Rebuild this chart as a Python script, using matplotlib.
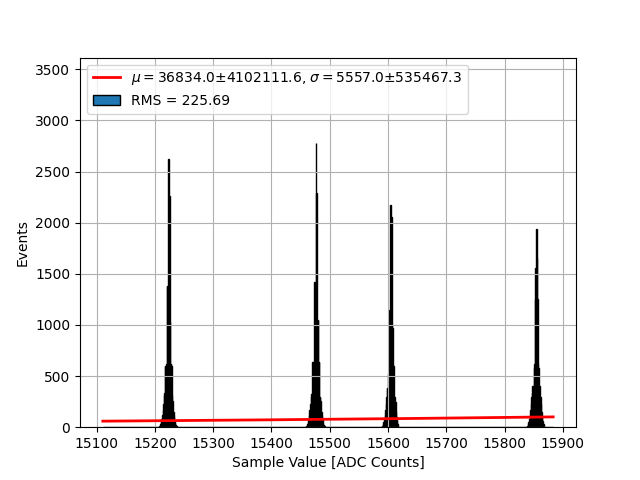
import numpy as np
import matplotlib
matplotlib.use('Agg')
import matplotlib.pyplot as plt

# Histogram range (ADC counts, 1 count per bin)
lo, hi = 15110, 15884

# Each peak: first bin and the counts per bin from there
peak1_start = 15206
peak1 = [3, 8, 15, 30, 50, 80, 120, 170, 230, 310, 330, 600, 600, 620, 1380, 1380, 1030,
         2620, 2260, 1030, 620, 620, 600, 310, 260, 150, 110, 70, 40, 20, 10, 4]
peak2_start = 15458
peak2 = [3, 8, 15, 30, 50, 80, 120, 170, 230, 300, 320, 330, 640, 640, 640, 1420, 1420, 1050,
         2780, 2290, 1050, 1050, 640, 640, 300, 300, 260, 150, 110, 70, 40, 20, 10, 4]
peak3_start = 15588
peak3 = [3, 8, 15, 30, 50, 80, 120, 170, 230, 300, 380, 380, 520, 1150, 1150, 1000,
         2170, 2060, 1000, 970, 610, 600, 300, 300, 250, 150, 100, 60, 30, 15, 6, 2]
peak4_start = 15837
peak4 = [3, 8, 15, 30, 50, 80, 120, 170, 230, 300, 330, 400, 400, 580, 620, 1250, 1560,
         1940, 1650, 1250, 620, 580, 400, 400, 300, 230, 150, 100, 60, 30, 15, 6, 2]

# fit result shown in the legend
amp = 123000.
mu, mu_err = 36834.0, 4102111.6
sigma, sigma_err = 5557.0, 535467.3
rms = 225.69

edges = np.arange(lo, hi + 1)
centers = edges[:-1] + 0.5
counts = np.zeros(len(edges) - 1)
counts[0] = 1
counts[-1] = 1
for start, pk in [(peak1_start, peak1), (peak2_start, peak2),
                  (peak3_start, peak3), (peak4_start, peak4)]:
    i = start - lo
    counts[i:i + len(pk)] += pk

fig, ax = plt.subplots(figsize=(6.4, 4.8), dpi=100)
fit = amp * np.exp(-(centers - mu)**2 / (2 * sigma**2))
ax.plot(centers, fit, 'r-', lw=2,
        label=r'$\mu=$%.1f±%.1f, $\sigma=$%.1f±%.1f' % (mu, mu_err, sigma, sigma_err))
ax.hist(edges[:-1], bins=edges, weights=counts, edgecolor='black',
        label='RMS = %.2f' % rms)
ax.set_ylim(0, 1.3 * counts.max())
ax.set_xlabel('Sample Value [ADC Counts]')
ax.set_ylabel('Events')
ax.grid(True)
ax.legend(loc='upper left')
fig.savefig('out.png')
